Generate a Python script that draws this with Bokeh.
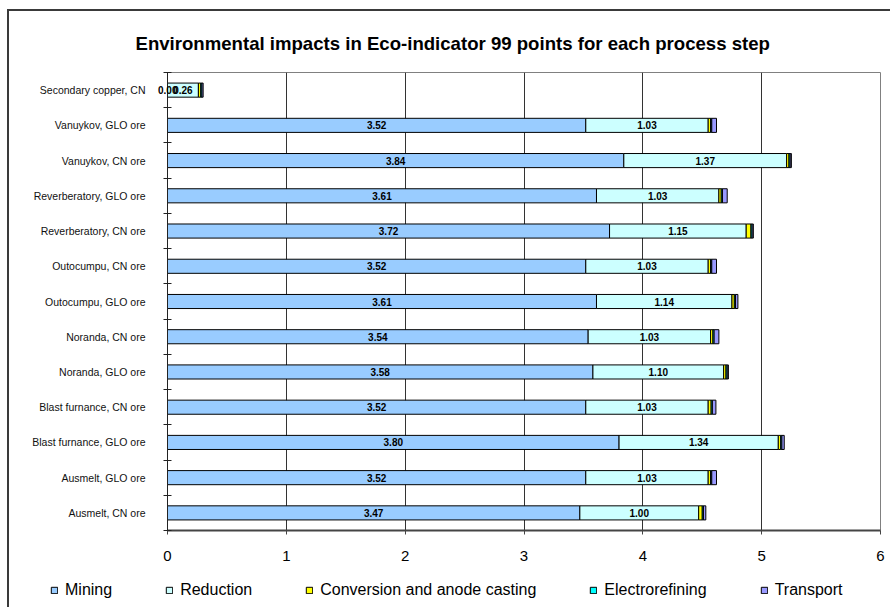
from bokeh.plotting import figure
from bokeh.layouts import column
from bokeh.models import (ColumnDataSource, Range1d, FixedTicker, LabelSet, LinearAxis,
                          Legend, LegendItem, Title)
from bokeh.core.properties import value
from bokeh.embed import file_html
from bokeh.resources import INLINE

# Process routes, listed bottom to top
processes = [
    "Ausmelt, CN ore",
    "Ausmelt, GLO ore",
    "Blast furnance, GLO ore",
    "Blast furnance, CN ore",
    "Noranda, GLO ore",
    "Noranda, CN ore",
    "Outocumpu, GLO ore",
    "Outocumpu, CN ore",
    "Reverberatory, CN ore",
    "Reverberatory, GLO ore",
    "Vanuykov, CN ore",
    "Vanuykov, GLO ore",
    "Secondary copper, CN",
]

# Eco-indicator 99 points per process step
mining = [3.47, 3.52, 3.80, 3.52, 3.58, 3.54, 3.61, 3.52, 3.72, 3.61, 3.84, 3.52, 0.00]
reduction = [1.00, 1.03, 1.34, 1.03, 1.10, 1.03, 1.14, 1.03, 1.15, 1.03, 1.37, 1.03, 0.26]
conversion = [0.03, 0.02, 0.02, 0.025, 0.02, 0.02, 0.02, 0.02, 0.04, 0.02, 0.02, 0.02, 0.02]
electrorefining = [0.01, 0.01, 0.01, 0.01, 0.01, 0.01, 0.01, 0.01, 0.01, 0.01, 0.01, 0.01, 0.01]
transport = [0.02, 0.04, 0.02, 0.03, 0.01, 0.04, 0.02, 0.04, 0.01, 0.04, 0.01, 0.04, 0.01]

steps = ["Mining", "Reduction", "Conversion and anode casting", "Electrorefining", "Transport"]
colors = ["#99CCFF", "#CCFFFF", "#FFFF00", "#00FFFF", "#9999FF"]
x_ticks = [0, 1, 2, 3, 4, 5, 6]

FONT = "Liberation Sans"
ypos = list(range(len(processes)))
keys = ["mining", "reduction", "conversion", "electrorefining", "transport"]
source = ColumnDataSource(dict(
    y=ypos, mining=mining, reduction=reduction, conversion=conversion,
    electrorefining=electrorefining, transport=transport,
))

p = figure(
    width=883, height=565,
    x_range=Range1d(0, 6), y_range=Range1d(-0.5, len(processes) - 0.5),
    output_backend="svg", toolbar_location=None, y_axis_location=None,
    min_border_left=158, min_border_right=12, min_border_top=61, min_border_bottom=46,
    margin=(9, 0, 0, 7),
    background_fill_color="white", border_fill_color="white",
)
p.styles = {"border-top": "2px solid #3a3a3a", "border-left": "2px solid #3a3a3a"}

p.title = Title(text="Environmental impacts in Eco-indicator 99 points for each process step",
                align="left", offset=-32, text_font=FONT, text_font_size="18.6px",
                text_font_style="bold", text_color="black", standoff=38)

p.outline_line_color = "#808080"
p.outline_line_width = 1

renderers = p.hbar_stack(keys, y="y", height=0.4, source=source, fill_color=colors,
                         line_color="black", line_width=1)

# Value labels on the mining and reduction segments
mid_mining = [m / 2 for m in mining]
mid_reduction = [m + r / 2 for m, r in zip(mining, reduction)]
lab_idx = [i for i in ypos if mining[i] > 0]
lab_src = ColumnDataSource(dict(
    x=[mid_mining[i] for i in lab_idx] + mid_reduction,
    y=lab_idx + ypos,
    t=["%.2f" % mining[i] for i in lab_idx] + ["%.2f" % v for v in reduction],
))
p.add_layout(LabelSet(x="x", y="y", text="t", source=lab_src, text_align="center",
                      text_baseline="middle", text_font=value(FONT),
                      text_font_size=value("10px"), text_font_style=value("bold"),
                      text_color=value("black")))

# Grid
p.ygrid.grid_line_color = None
p.xgrid.ticker = FixedTicker(ticks=[1, 2, 3, 4, 5])
p.xgrid.grid_line_color = "#333333"
p.xgrid.grid_line_width = 1

# X axis
p.xaxis.ticker = FixedTicker(ticks=x_ticks)
p.xaxis.axis_line_color = "#444444"
p.xaxis.axis_line_width = 2
p.xaxis.major_tick_line_color = "#444444"
p.xaxis.major_tick_in = 0
p.xaxis.major_tick_out = 4
p.xaxis.minor_tick_line_color = None
p.xaxis.major_label_text_font = FONT
p.xaxis.major_label_text_font_size = "15px"
p.xaxis.major_label_text_color = "black"
p.xaxis.major_label_standoff = 16

# Inner left axis: axis line, tick marks between categories, and the zero-width
# mining value of the secondary copper row, which straddles the axis
zero_rows = {i: "%.2f" % mining[i] for i in ypos if mining[i] == 0}
inner = LinearAxis(
    ticker=FixedTicker(ticks=list(zero_rows), minor_ticks=[i - 0.5 for i in range(len(processes) + 1)]),
    major_label_overrides=zero_rows,
    major_tick_in=0, major_tick_out=0, minor_tick_in=4, minor_tick_out=4,
    minor_tick_line_color="#222222", axis_line_color="#222222",
    major_label_text_font=FONT, major_label_text_font_size="10px",
    major_label_text_font_style="bold", major_label_text_color="black",
    major_label_standoff=-14,
)
p.add_layout(inner, "left")

# Outer left axis: process names
names = LinearAxis(
    ticker=FixedTicker(ticks=ypos, minor_ticks=[]),
    major_label_overrides={i: name for i, name in enumerate(processes)},
    major_tick_in=0, major_tick_out=0, minor_tick_line_color=None,
    axis_line_color=None,
    major_label_text_font=FONT, major_label_text_font_size="10.5px",
    major_label_text_color="#111111", major_label_standoff=10,
)
p.add_layout(names, "left")

# Legend strip under the chart
leg = figure(
    width=883, height=33, x_range=Range1d(0, 1), y_range=Range1d(0, 1),
    output_backend="svg", toolbar_location=None,
    x_axis_location=None, y_axis_location=None,
    min_border=0, margin=(0, 0, 0, 7), outline_line_color=None,
    background_fill_color="white", border_fill_color="white",
)
if hasattr(leg, "frame_align"):
    leg.frame_align = False
    p.frame_align = False
leg.styles = {"border-left": "2px solid #3a3a3a"}
leg.xgrid.visible = False
leg.ygrid.visible = False
swatches = [leg.hbar(y=[-5], right=[0.5], height=0.4, fill_color=c, line_color="black", line_width=1)
            for c in colors]
legend = Legend(
    items=[LegendItem(label=s, renderers=[r]) for s, r in zip(steps, swatches)],
    orientation="horizontal", location=(41, 8),
    padding=0, margin=0, spacing=53, label_standoff=7,
    glyph_width=8, glyph_height=8, label_height=18,
    label_text_font=FONT, label_text_font_size="16px",
    label_text_color="black", border_line_color=None, background_fill_alpha=0,
)
leg.add_layout(legend)

open("out.html", "w").write(file_html(column(p, leg, spacing=0), INLINE))
